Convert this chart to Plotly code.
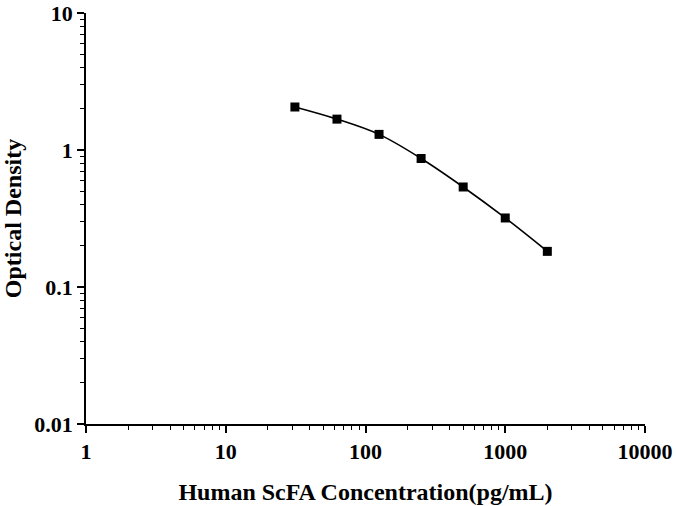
import plotly.graph_objects as go

# standard curve
concentration = [31.25, 62.5, 125, 250, 500, 1000, 2000]
optical_density = [2.06, 1.68, 1.30, 0.867, 0.537, 0.319, 0.182]

x_ticks = [1, 10, 100, 1000, 10000]
x_tick_labels = ["1", "10", "100", "1000", "10000"]
y_ticks = [0.01, 0.1, 1, 10]
y_tick_labels = ["0.01", "0.1", "1", "10"]

FONT = "Liberation Serif"


def minor_vals(lo, hi):
    vals = []
    d = lo
    while d < hi:
        vals += [d * k for k in range(2, 10)]
        d *= 10
    return vals


fig = go.Figure()
fig.add_trace(go.Scatter(
    x=concentration, y=optical_density,
    mode="lines+markers",
    line=dict(color="black", width=1.6, shape="spline"),
    marker=dict(symbol="square", size=9, color="black"),
    showlegend=False,
))

axis_common = dict(
    type="log",
    showline=True, linecolor="black", linewidth=1.5,
    showgrid=False, zeroline=False, mirror=False,
    ticks="outside", ticklen=7, tickwidth=1.5, tickcolor="black",
    tickmode="array",
    tickfont=dict(family=FONT, size=22, color="black", weight="bold"),
)

fig.update_xaxes(
    **axis_common,
    range=[0, 4],
    tickvals=x_ticks, ticktext=x_tick_labels,
    minor=dict(ticks="outside", ticklen=4, tickwidth=1.2, tickcolor="black",
               tickmode="array", tickvals=minor_vals(1, 10000)),
    title=dict(text="Human ScFA Concentration(pg/mL)", standoff=20,
               font=dict(family=FONT, size=24, color="black", weight="bold")),
)
fig.update_yaxes(
    **axis_common,
    range=[-2, 1],
    tickvals=y_ticks, ticktext=y_tick_labels,
    minor=dict(ticks="outside", ticklen=4, tickwidth=1.2, tickcolor="black",
               tickmode="array", tickvals=minor_vals(0.01, 10)),
    title=dict(text="Optical Density", standoff=16,
               font=dict(family=FONT, size=24, color="black", weight="bold")),
)

fig.update_layout(
    width=676, height=506,
    margin=dict(l=86, r=31, t=13, b=82, autoexpand=False),
    plot_bgcolor="white", paper_bgcolor="white",
)

# drop the page's default body margin so the figure sits at the window corner
fig.write_html("out.html", config={"displayModeBar": False},
               post_script="document.body.style.margin='0';")
